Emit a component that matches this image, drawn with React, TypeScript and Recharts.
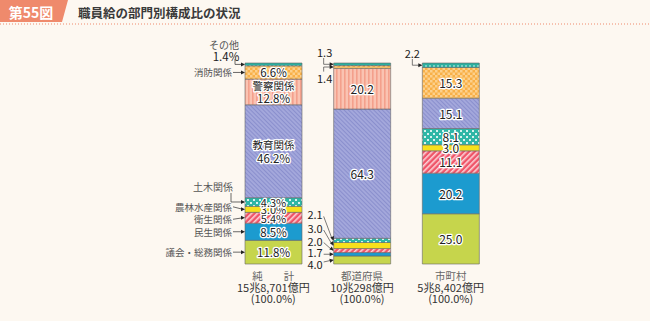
import { BarChart, Bar, XAxis, YAxis, LabelList } from 'recharts';

const categories = ['純計', '都道府県', '市町村'];
const categoryLabels = ['純　　計', '都道府県', '市町村'];
const amountLabels = ['15兆8,701億円', '10兆298億円', '5兆8,402億円'];
const shareLabels = ['(100.0%)', '(100.0%)', '(100.0%)'];

// bottom to top
const seriesNames = [
  '議会・総務関係',
  '民生関係',
  '衛生関係',
  '農林水産関係',
  '土木関係',
  '教育関係',
  '警察関係',
  '消防関係',
  'その他',
];
const gikaiSomu = [11.8, 4.0, 25.0];
const minsei = [8.5, 1.7, 20.2];
const eisei = [5.4, 2.0, 11.1];
const norin = [3.0, 3.0, 3.0];
const doboku = [4.3, 2.1, 8.1];
const kyoiku = [46.2, 64.3, 15.1];
const keisatsu = [12.8, 20.2, 0];
const shobo = [6.6, 1.4, 15.3];
const sonota = [1.4, 1.3, 2.2];

const keys = ['gikai', 'minsei', 'eisei', 'norin', 'doboku', 'kyoiku', 'keisatsu', 'shobo', 'sonota'];
const values = [gikaiSomu, minsei, eisei, norin, doboku, kyoiku, keisatsu, shobo, sonota];
const fills = [
  '#C6D54C',
  '#1C9BCF',
  'url(#p-eisei)',
  '#F7E01C',
  'url(#p-doboku)',
  'url(#p-kyoiku)',
  'url(#p-keisatsu)',
  'url(#p-shobo)',
  'url(#p-sonota)',
];

const data = categories.map((name, i) => {
  const row: Record<string, any> = { name };
  keys.forEach((k, s) => (row[k] = values[s][i]));
  return row;
});

const FONT = '"Noto Sans CJK JP", "Noto Sans", sans-serif';
const BG = '#FDF8F1';

// label offsets for the small prefecture segments (from segment centre)
const midOffsets = [4, -2, -10, -17.5, -26];
// name label nudges on the left of the total bar
const leftNudge = [0, 0, 1.5, -2.5, 0, 0, 0, 0, 0];

function arrowHead(x: number, y: number, dx: number, dy: number) {
  const len = Math.hypot(dx, dy) || 1;
  const ux = dx / len;
  const uy = dy / len;
  const b1x = x - ux * 4 - uy * 2;
  const b1y = y - uy * 4 + ux * 2;
  const b2x = x - ux * 4 + uy * 2;
  const b2y = y - uy * 4 - ux * 2;
  return <polygon points={`${x},${y} ${b1x},${b1y} ${b2x},${b2y}`} fill="#222" />;
}

function inText(x: number, y: number, text: string, size = 11.5) {
  return (
    <text
      x={x}
      y={y}
      textAnchor="middle"
      dominantBaseline="central"
      fontSize={size}
      fontFamily={FONT}
      fill="#222"
      stroke="#fff"
      strokeWidth={2.5}
      strokeLinejoin="round"
      style={{ paintOrder: 'stroke' }}
    >
      {text}
    </text>
  );
}

const renderLabel = (s: number) => (p: any) => {
  const vb = p.viewBox || {};
  const x = Number(p.x ?? vb.x);
  const y = Number(p.y ?? vb.y);
  const w = Number(p.width ?? vb.width);
  const h = Number(p.height ?? vb.height);
  const i = p.index;
  const v = Number(p.value);
  if (!v) return null;
  const cx = x + w / 2;
  const cy = y + h / 2;
  const name = seriesNames[s];
  const val = v.toFixed(1);

  if (i === 0) {
    if (s === 8) {
      return (
        <g>
          <text x={224} y={y - 19} textAnchor="middle" dominantBaseline="central" fontSize={10} fontFamily={FONT} fill="#555">
            {name}
          </text>
          <text x={226} y={y - 7} textAnchor="middle" dominantBaseline="central" fontSize={11.5} fontFamily={FONT} fill="#222">
            {val}%
          </text>
          <path d={`M ${x - 10} ${y - 4} V ${cy} H ${x - 1}`} fill="none" stroke="#444" strokeWidth={0.8} />
          {arrowHead(x, cy, 1, 0)}
        </g>
      );
    }
    if (s === 5 || s === 6) {
      return (
        <g>
          {inText(cx, cy - 6.5, name, 10.5)}
          {inText(cx, cy + 6.5, `${val}%`)}
        </g>
      );
    }
    if (s === 4) {
      return (
        <g>
          {inText(cx, cy, `${val}%`, 11)}
          <text x={x - 12} y={cy - 15} textAnchor="end" dominantBaseline="central" fontSize={10} fontFamily={FONT} fill="#555">
            {name}
          </text>
          <path d={`M ${x - 14} ${cy - 9} V ${cy} H ${x - 1}`} fill="none" stroke="#444" strokeWidth={0.8} />
          {arrowHead(x, cy, 1, 0)}
        </g>
      );
    }
    const ly = cy + (leftNudge[s] ?? 0);
    return (
      <g>
        {inText(cx, cy, `${val}%`, s === 2 || s === 3 ? 11 : 11.5)}
        <text x={x - 13} y={ly} textAnchor="end" dominantBaseline="central" fontSize={9.5} fontFamily={FONT} fill="#555">
          {name}
        </text>
        <line x1={x - 12} y1={ly} x2={x - 2} y2={cy} stroke="#444" strokeWidth={0.8} />
        {arrowHead(x, cy, 1, 0)}
      </g>
    );
  }

  if (i === 1) {
    if (s === 5 || s === 6) return inText(cx, cy, val, 12);
    if (s <= 4) {
      const ly = cy + midOffsets[s];
      const sx = x - 10;
      const sy = ly + (s === 0 ? -2 : 2);
      return (
        <g>
          <text x={x - 11} y={ly} textAnchor="end" dominantBaseline="central" fontSize={11} fontFamily={FONT} fill="#222">
            {val}
          </text>
          <line x1={sx} y1={sy} x2={x - 1} y2={cy} stroke="#444" strokeWidth={0.7} />
          {arrowHead(x, cy, x - sx, cy - sy)}
        </g>
      );
    }
    if (s === 8) {
      return (
        <g>
          <text x={x - 9} y={y - 11} textAnchor="middle" dominantBaseline="central" fontSize={11} fontFamily={FONT} fill="#222">
            {val}
          </text>
          <path d={`M ${x - 10} ${y - 5} V ${cy} H ${x - 1}`} fill="none" stroke="#444" strokeWidth={0.7} />
          {arrowHead(x, cy, 1, 0)}
        </g>
      );
    }
    if (s === 7) {
      return (
        <g>
          <text x={x - 9} y={y + 12} textAnchor="middle" dominantBaseline="central" fontSize={11} fontFamily={FONT} fill="#222">
            {val}
          </text>
          <path d={`M ${x - 10} ${y + 6} V ${cy} H ${x - 1}`} fill="none" stroke="#444" strokeWidth={0.7} />
          {arrowHead(x, cy, 1, 0)}
        </g>
      );
    }
    return null;
  }

  if (s === 8) {
    return (
      <g>
        <text x={x - 10} y={y - 10} textAnchor="middle" dominantBaseline="central" fontSize={11} fontFamily={FONT} fill="#222">
          {val}
        </text>
        <path d={`M ${x - 10} ${y - 4} V ${cy} H ${x - 1}`} fill="none" stroke="#444" strokeWidth={0.7} />
        {arrowHead(x, cy, 1, 0)}
      </g>
    );
  }
  return inText(cx, cy, val, 12);
};

const BottomTick = (p: any) => {
  const { x, y, index } = p;
  return (
    <g fontFamily={FONT}>
      <text x={x} y={y + 11} textAnchor="middle" dominantBaseline="central" fontSize={10.5} fill="#666">
        {categoryLabels[index]}
      </text>
      <text x={x} y={y + 23} textAnchor="middle" dominantBaseline="central" fontSize={11} fill="#333">
        {amountLabels[index]}
      </text>
      <text x={x} y={y + 34} textAnchor="middle" dominantBaseline="central" fontSize={11} fill="#333">
        {shareLabels[index]}
      </text>
    </g>
  );
};

export default function App() {
  return (
    <div style={{ position: 'absolute', left: 0, top: 0, width: 650, height: 321, background: BG }}>
      <svg width={650} height={30} style={{ position: 'absolute', left: 0, top: 0 }}>
        <polygon points="0,0 68,0 62,22 0,22" fill="#EF8A6C" />
        <text x={31} y={11.5} textAnchor="middle" dominantBaseline="central" fontSize={14} fontWeight={700} fill="#fff" fontFamily={FONT}>
          第55図
        </text>
        <text x={78} y={12} dominantBaseline="central" fontSize={12.5} fontWeight={700} fill="#3a3a3a" fontFamily={FONT}>
          職員給の部門別構成比の状況
        </text>
        <line x1={0} y1={24} x2={650} y2={24} stroke="#EF8A6C" strokeWidth={1} strokeDasharray="1 2" />
      </svg>
      <div style={{ position: 'absolute', left: 0, top: 0 }}>
        <BarChart
          width={650}
          height={321}
          data={data}
          margin={{ top: 63, right: 155, bottom: 7, left: 229 }}
          barSize={57}
        >
          <defs>
            <pattern id="p-eisei" width="4" height="4" patternUnits="userSpaceOnUse" patternTransform="rotate(45)">
              <rect width="4" height="4" fill="#EF5468" />
              <rect width="1.6" height="4" fill="#FBD0D6" />
            </pattern>
            <pattern id="p-kyoiku" width="3" height="3" patternUnits="userSpaceOnUse" patternTransform="rotate(-45)">
              <rect width="3" height="3" fill="#A3A7DB" />
              <rect width="1" height="3" fill="#8A8FCD" />
            </pattern>
            <pattern id="p-keisatsu" width="4" height="4" patternUnits="userSpaceOnUse">
              <rect width="4" height="4" fill="#FAC3B2" />
              <rect width="1.6" height="4" fill="#F4A08C" />
            </pattern>
            <pattern id="p-shobo" width="5" height="5" patternUnits="userSpaceOnUse">
              <rect width="5" height="5" fill="#F8B048" />
              <rect width="2.5" height="2.5" fill="#FCD08C" />
              <rect x="2.5" y="2.5" width="2.5" height="2.5" fill="#FCD08C" />
            </pattern>
            <pattern id="p-doboku" width="6" height="6" patternUnits="userSpaceOnUse">
              <rect width="6" height="6" fill="#2FB6A6" />
              <rect x="1" y="1" width="2" height="2" fill="#D8F2EE" />
              <rect x="4" y="4" width="2" height="2" fill="#D8F2EE" />
            </pattern>
            <pattern id="p-sonota" width="4" height="4" patternUnits="userSpaceOnUse">
              <rect width="4" height="4" fill="#2BB0A0" />
              <circle cx="2" cy="2" r="0.8" fill="#E6F7F4" />
            </pattern>
          </defs>
          <XAxis
            dataKey="name"
            axisLine={false}
            tickLine={false}
            tickSize={0}
            tickMargin={0}
            height={50}
            interval={0}
            tick={<BottomTick />}
          />
          <YAxis hide domain={[0, 100]} />
          {keys.map((k, s) => (
            <Bar key={k} dataKey={k} stackId="a" fill={fills[s]} stroke="#666" strokeWidth={0.6} isAnimationActive={false}>
              <LabelList dataKey={k} content={renderLabel(s)} />
            </Bar>
          ))}
        </BarChart>
      </div>
    </div>
  );
}
